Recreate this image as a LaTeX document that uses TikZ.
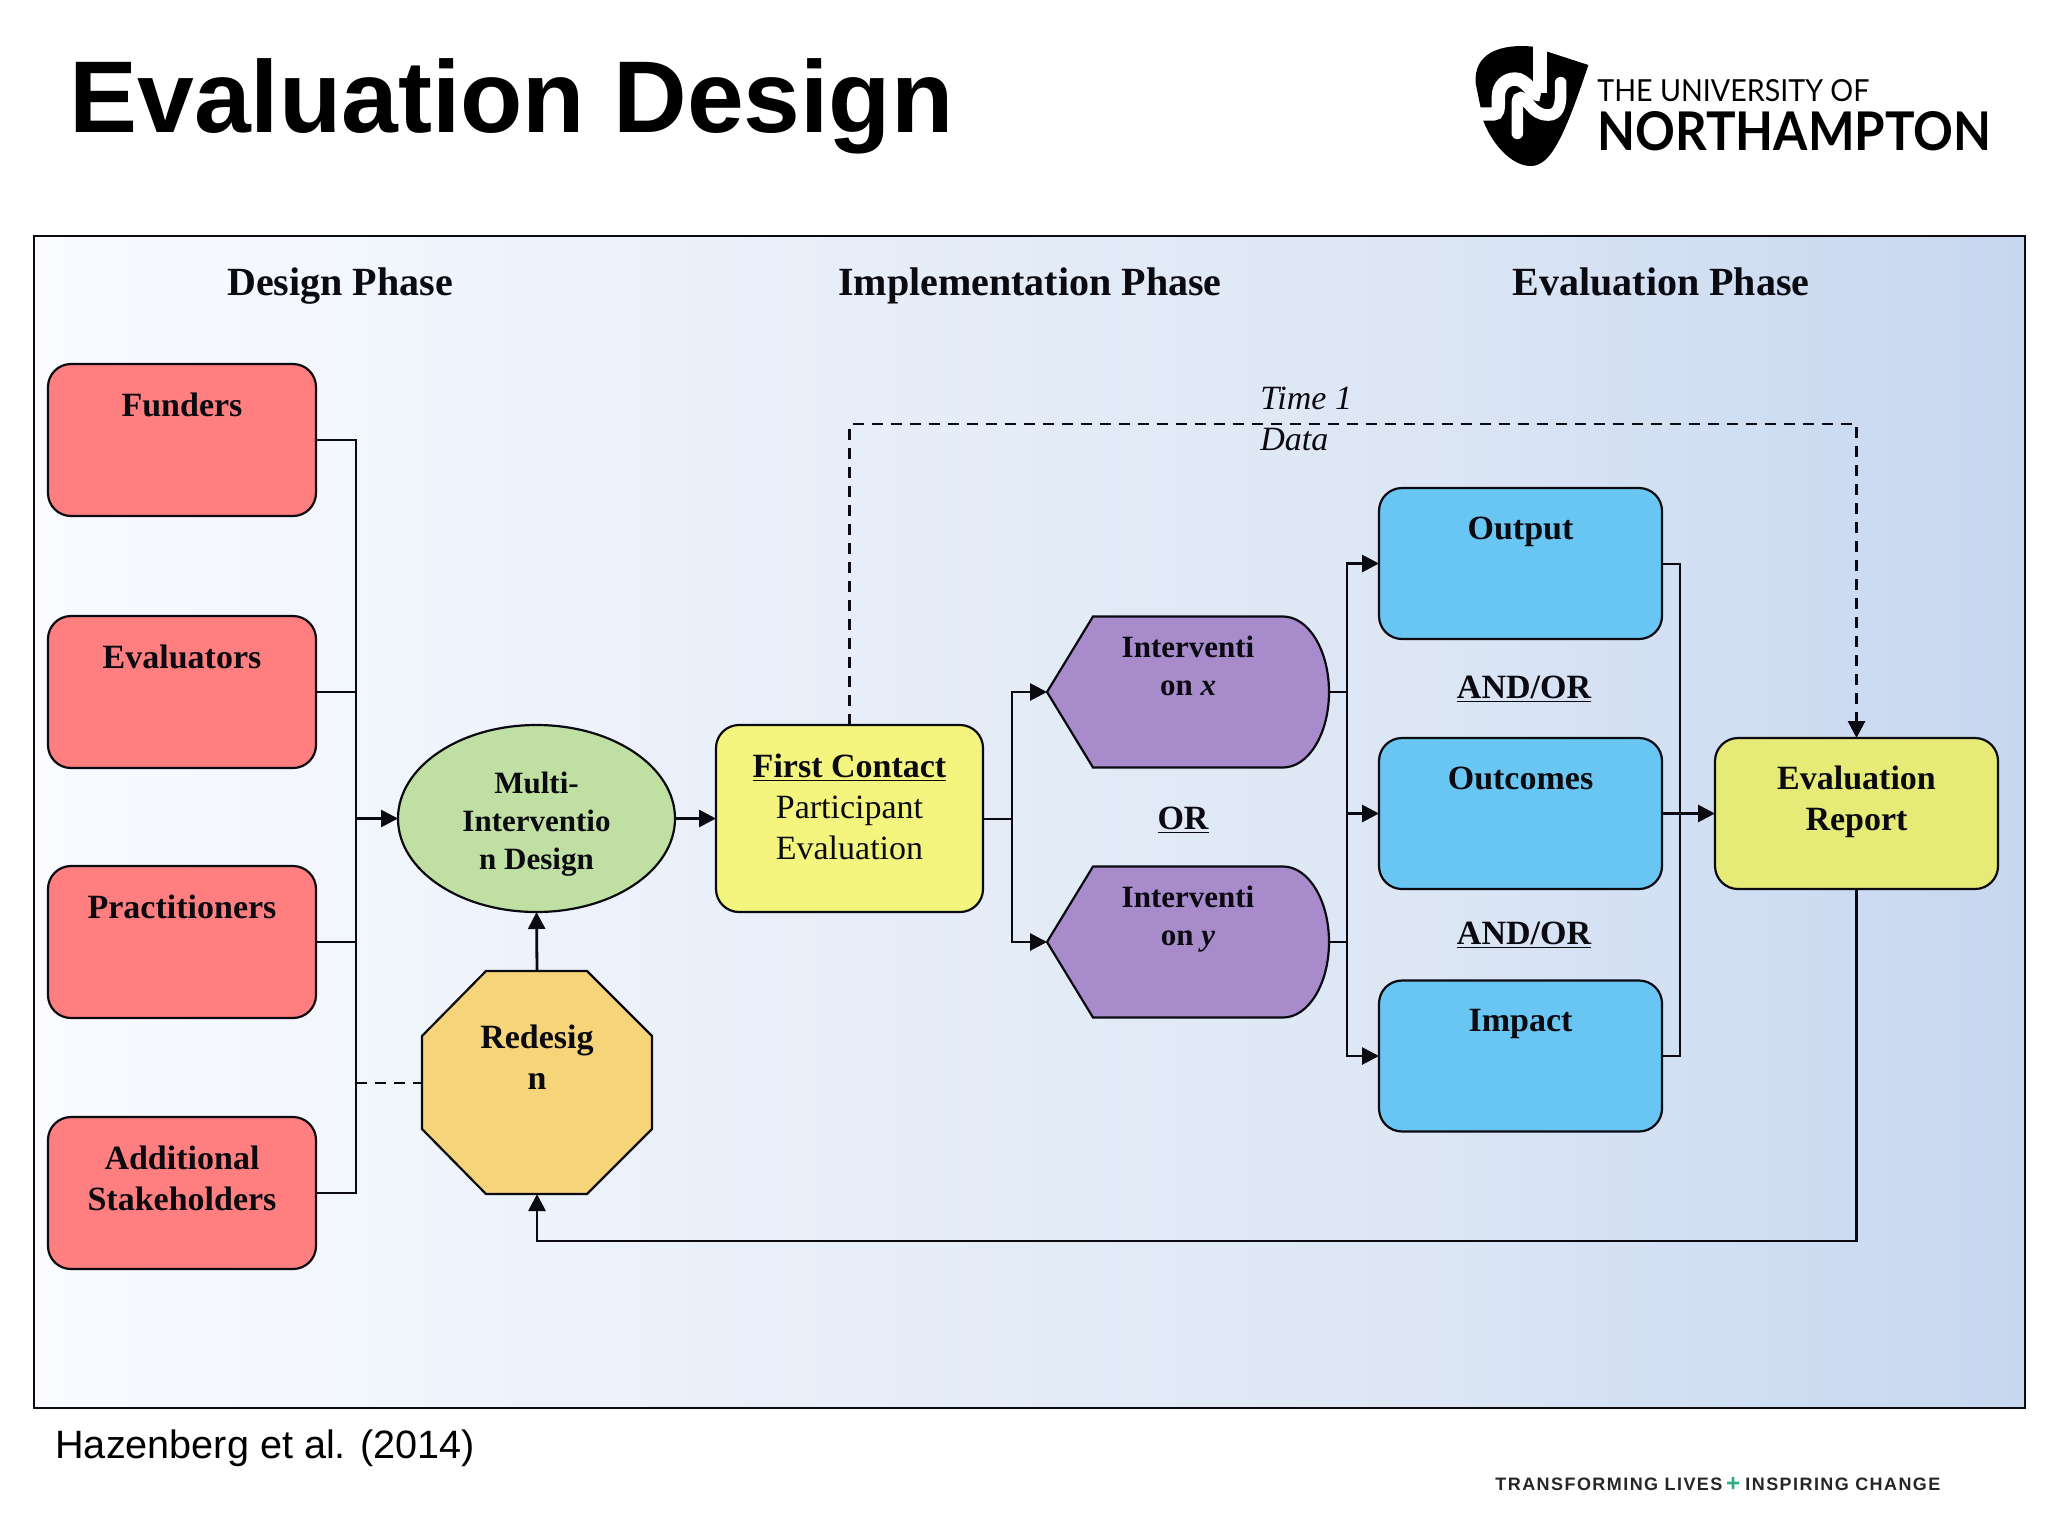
\documentclass[tikz,border=0pt]{standalone}
\usepackage{fontspec}
\setmainfont{Liberation Serif}
\newfontfamily\arialfont{Liberation Sans}
\newfontfamily\logofont{Lato}
\usetikzlibrary{arrows.meta,shapes.geometric,calc}
\definecolor{cred}{HTML}{FF7F80}
\definecolor{cblue}{HTML}{69C6F2}
\definecolor{cyel}{HTML}{F3F57E}
\definecolor{cgreen}{HTML}{BFDFA3}
\definecolor{corange}{HTML}{F5D47A}
\definecolor{cpurple}{HTML}{A78BCB}
\definecolor{creport}{HTML}{E6EB78}
\definecolor{ink}{HTML}{0A0A10}
\definecolor{cplus}{HTML}{2BAE7E}
\definecolor{F0}{HTML}{F9FBFF}
\definecolor{P1}{HTML}{EAF0FA}
\definecolor{P2}{HTML}{DCE6F4}
\definecolor{P3}{HTML}{D0DEF3}
\definecolor{P4}{HTML}{C7D7EF}
\pgfdeclarehorizontalshading{panelbg}{100bp}{
 color(0bp)=(F0);
 color(25bp)=(F0);
 color(42bp)=(P1);
 color(60bp)=(P2);
 color(68bp)=(P3);
 color(75bp)=(P4);
 color(100bp)=(P4)}
\newcommand{\tbox}[4]{\parbox[c][#2][t]{#1}{\vspace*{#3}\centering\strut #4\par}}
\tikzset{
 base/.style={inner sep=0pt,outer sep=0pt,draw=ink,line width=1.1pt,text=ink,font=\fontsize{17}{20.5}\selectfont\bfseries},
 roundbox/.style={base,rectangle,rounded corners=11.5pt},
 redbox/.style={roundbox,fill=cred},
 bluebox/.style={roundbox,fill=cblue},
 plainlbl/.style={inner sep=0pt,text=ink,font=\fontsize{17}{20.5}\selectfont\bfseries},
 header/.style={inner sep=0pt,anchor=base,text=ink,font=\fontsize{20}{24}\selectfont\bfseries},
 shapefill/.style={draw=ink,line width=1.1pt},
 link/.style={draw=ink,line width=1pt},
 arrowlink/.style={draw=ink,line width=1.4pt,-{Triangle[length=8.5pt,width=8.5pt]}},
 dashlink/.style={draw=ink,line width=1.1pt,dash pattern=on 5.5pt off 4pt},
}
\begin{document}
\begin{tikzpicture}[x=0.5pt,y=-0.5pt]
\useasboundingbox (0,0) rectangle (2048,1536);
\fill[white] (0,0) rectangle (2048,1536);
% panel
\draw[draw=ink,line width=1.1pt,shading=panelbg] (34,236) rectangle (2025,1408);
% title
\node[anchor=west,inner sep=0pt,font=\arialfont\fontsize{51}{60}\selectfont\bfseries] (title) at (69,106) {Evaluation Design};
% logo
\begin{scope}[shift={(1470,40)},scale=1/3]
\fill[black] (190,20) .. controls (90,10) and (10,40) .. (17,130) -- (40,243)
  .. controls (70,320) and (130,380) .. (185,378) .. controls (240,375) and (280,300) .. (355,75) -- (232,35) -- cycle;
\draw[white,line width=6.67pt] (0,222) -- (70,222) .. controls (85,222) and (85,205) .. (85,190) -- (85,170)
  .. controls (85,135) and (110,117) .. (135,117) .. controls (170,117) and (185,165) .. (212,165);
\draw[white,line width=6.9pt] (211,-5) -- (211,160);
\draw[white,line width=5.8pt,line cap=round] (142,280) -- (142,190) .. controls (142,165) and (160,170) .. (175,190)
  .. controls (195,215) and (210,225) .. (235,225) .. controls (265,225) and (272,195) .. (272,165) -- (272,128);
\end{scope}
\node[anchor=south west,inner sep=0pt] (logoa) at (1597,102) {\resizebox{136pt}{11pt}{\logofont THE UNIVERSITY OF}};
\node[anchor=south west,inner sep=0pt] (logob) at (1597,151) {\resizebox{197pt}{19.5pt}{\logofont\bfseries NORTHAMPTON}};
% headers
\node[header] (h1) at (340,295) {Design Phase};
\node[header] (h2) at (1030,295) {Implementation Phase};
\node[header] (h3) at (1661,295) {Evaluation Phase};
% red boxes
\node[redbox] (funders) at (182,440) {\tbox{134pt}{76pt}{11.65pt}{Funders}};
\node[redbox] (evaluators) at (182,692) {\tbox{134pt}{76pt}{11.65pt}{Evaluators}};
\node[redbox] (practitioners) at (182,942) {\tbox{134pt}{76pt}{11.65pt}{Practitioners}};
\node[redbox] (additional) at (182,1193) {\tbox{134pt}{76pt}{11.65pt}{Additional\\Stakeholders}};
% ellipse
\node[base,ellipse,fill=cgreen,minimum width=138.5pt,minimum height=93.5pt,font=\fontsize{15.5}{19}\selectfont\bfseries] (multi) at (536.5,818.5) {\tbox{84pt}{60pt}{4.4pt}{Multi-\\Interventio\\n Design}};
% first contact
\node[roundbox,fill=cyel] (first) at (849.5,818.5) {\tbox{133.5pt}{93.5pt}{11.65pt}{\underline{First Contact}\\{\mdseries Participant\\Evaluation}}};
% octagon
\draw[shapefill,fill=corange] (486,971) -- (587,971) -- (652,1036) -- (652,1129) -- (587,1194) -- (486,1194) -- (422,1129) -- (422,1036) -- cycle;
\node[base,draw=none,fill=none] (redesign) at (537,1082.5) {\tbox{115pt}{111.5pt}{24.15pt}{Redesig\\n}};
% pentagons
\foreach \yc in {692,942}{
 \draw[shapefill,fill=cpurple] (1047,\yc) -- (1093,\yc-75.5) -- (1283,\yc-75.5) arc[start angle=-90,end angle=90,x radius=46,y radius=75.5] -- (1093,\yc+75.5) -- cycle;
}
\node[base,draw=none,fill=none,font=\fontsize{15.5}{19}\selectfont\bfseries] (intx) at (1188,692) {\tbox{141pt}{75.5pt}{7.3pt}{Interventi\\on \textit{x}}};
\node[base,draw=none,fill=none,font=\fontsize{15.5}{19}\selectfont\bfseries] (inty) at (1188,942) {\tbox{141pt}{75.5pt}{7.3pt}{Interventi\\on \textit{y}}};
% blue boxes
\node[bluebox] (output) at (1520.5,563.5) {\tbox{141.5pt}{75.5pt}{11.15pt}{Output}};
\node[bluebox] (outcomes) at (1520.5,813.5) {\tbox{141.5pt}{75.5pt}{11.15pt}{Outcomes}};
\node[bluebox] (impact) at (1520.5,1056) {\tbox{141.5pt}{75.5pt}{11.15pt}{Impact}};
% report
\node[roundbox,fill=creport] (report) at (1856.5,813.5) {\tbox{141.5pt}{75.5pt}{11.15pt}{Evaluation\\Report}};
% text labels
\node[plainlbl] (or) at (1183,820.5) {\underline{OR}};
\node[plainlbl] (ao1) at (1524,689) {\underline{AND/OR}};
\node[plainlbl] (ao2) at (1524,935) {\underline{AND/OR}};
\node[anchor=west,inner sep=0pt,align=left,text=ink,font=\fontsize{17}{20.5}\selectfont\itshape] (timed) at (1260,419) {Time 1\\Data};
\node[anchor=west,inner sep=0pt,font=\arialfont\fontsize{19.8}{24}\selectfont] (cite) at (55,1448) {Hazenberg et al. (2014)};
\node[anchor=west,inner sep=0pt,text=black!85] (tag1) at (1495,1484) {\resizebox{113.5pt}{!}{\arialfont\bfseries\addfontfeature{LetterSpace=8}TRANSFORMING LIVES}};
\node[inner sep=0pt,text=cplus,font=\arialfont\fontsize{12}{14}\selectfont\bfseries] (tagplus) at (1733,1484) {+};
\node[anchor=west,inner sep=0pt,text=black!85] (tag2) at (1745,1484) {\resizebox{97.5pt}{!}{\arialfont\bfseries\addfontfeature{LetterSpace=8}INSPIRING CHANGE}};
% connectors left
\coordinate (busT) at (356,440);
\coordinate (busB) at (356,1193);
\draw[link] (funders.east) -- (busT) -- (busB) -- (additional.east);
\draw[link] (evaluators.east) -- (evaluators.east -| busT);
\draw[link] (practitioners.east) -- (practitioners.east -| busT);
\draw[arrowlink] (multi.west -| busT) -- (multi.west);
\draw[dashlink,line width=1pt] (redesign.west -| busT) -- (redesign.west);
\draw[arrowlink] (multi.east) -- (first.west);
\draw[arrowlink] (redesign.north) -- (multi.south);
% branch
\coordinate (brT) at (1012,692);
\coordinate (brB) at (1012,942);
\draw[link] (first.east) -- (first.east -| brT);
\draw[arrowlink] (first.east -| brT) -- (brT) -- (intx.west);
\draw[arrowlink] (first.east -| brT) -- (brB) -- (inty.west);
% bus 2
\coordinate (b2T) at (1347,563.5);
\coordinate (b2B) at (1347,1056);
\draw[link] (intx.east) -- (intx.east -| b2T);
\draw[link] (inty.east) -- (inty.east -| b2T);
\draw[arrowlink] (outcomes.west -| b2T) -- (b2T) -- (output.west);
\draw[arrowlink] (outcomes.west -| b2T) -- (b2B) -- (impact.west);
\draw[arrowlink] (outcomes.west -| b2T) -- (outcomes.west);
% bus 3
\coordinate (b3T) at (1680,563.5);
\coordinate (b3B) at (1680,1056);
\draw[link] (output.east) -- (b3T) -- (b3B) -- (impact.east);
\draw[arrowlink] (outcomes.east) -- (report.west);
% feedback + dashed
\coordinate (dash1) at (849.5,424);
\coordinate (dash2) at (1856.5,424);
\draw[dashlink] (first.north) -- (dash1) -- (dash2) -- ($(report.north)+(0,-16)$);
\draw[arrowlink] ($(report.north)+(0,-14)$) -- (report.north);
\coordinate (fb1) at (1856.5,1241);
\coordinate (fb2) at (537,1241);
\draw[arrowlink] (report.south) -- (fb1) -- (fb2) -- (redesign.south);
\end{tikzpicture}
\end{document}
